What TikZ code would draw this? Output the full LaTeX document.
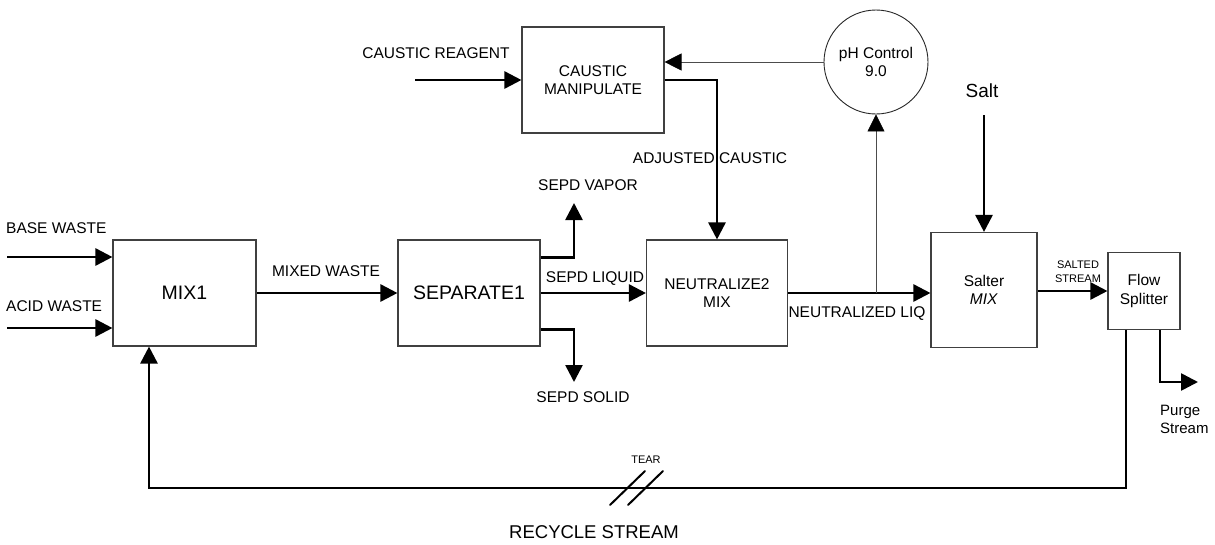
\documentclass[tikz,border=0pt]{standalone}
\usepackage{fontspec}
\setmainfont{Liberation Sans}
\usetikzlibrary{arrows.meta,positioning,calc}

\begin{document}
\begin{tikzpicture}[x=1pt, y=-1pt,
  unit/.style={draw=black!75, line width=1.1pt, align=center, inner sep=0pt, font=\fontsize{15.5}{18.5}\selectfont},
  big/.style={font=\fontsize{19.5}{22}\selectfont},
  stream/.style={line width=2.6pt, -{Triangle[length=17pt, width=17pt]}},
  signal/.style={line width=0.7pt, draw=black!70, -{Triangle[length=17pt, width=17pt, fill=black, color=black]}},
  lbl/.style={font=\fontsize{15.5}{18.5}\selectfont, inner sep=0pt, align=center},
  small/.style={font=\fontsize{11}{14}\selectfont, inner sep=0pt, align=center}
]
  \useasboundingbox (0,0) rectangle (1215,544);

  \node[unit, big, minimum width=143pt, minimum height=106pt] (mix1) at (184.5,293) {MIX1};
  \node[unit, big, minimum width=142pt, minimum height=106pt] (sep1) at (469,293) {SEPARATE1};
  \node[unit, minimum width=141pt, minimum height=106pt] (neut) at (717,293) {NEUTRALIZE2\\MIX};
  \node[unit, minimum width=142pt, minimum height=106pt] (caustic) at (593,80) {CAUSTIC\\MANIPULATE};
  \node[unit, circle, draw=black!85, line width=0.9pt, minimum size=104pt] (ph) at (876,62) {pH Control\\9.0};
  \node[unit, minimum width=106pt, minimum height=115pt] (salter) at (984,290) {Salter\\\textit{MIX}};
  \node[unit, minimum width=72pt, minimum height=77pt] (splitter) at (1144,291) {Flow\\Splitter};

  \coordinate (basein) at (7,257);
  \coordinate (acidin) at (7,328);
  \coordinate (reagentin) at (415,80);
  \coordinate (saltin) at (984,115);
  \coordinate (vaporout) at (574,203);
  \coordinate (solidout) at (574,382);
  \coordinate (purgebend) at (1160,382);
  \coordinate (purgeout) at (1198,382);
  \coordinate (recycleright) at (1126,488);
  \coordinate (recycleleft) at (149,488);

  \draw[stream] (basein) -- (basein -| mix1.west);
  \draw[stream] (acidin) -- (acidin -| mix1.west);
  \draw[stream] (mix1) -- (sep1);
  \draw[stream] ($(sep1.north east)!0.17!(sep1.south east)$) -| (vaporout);
  \draw[stream] ($(sep1.north east)!0.84!(sep1.south east)$) -| (solidout);
  \draw[stream] (sep1) -- (neut);
  \draw[stream] (reagentin) -- (caustic);
  \draw[stream] (caustic.east) -| (neut.north);
  \draw[stream] (neut.east) -- (neut.east -| salter.west);
  \draw[signal] (ph.south |- neut.east) -- (ph.south);
  \draw[signal] (ph.west) -- (ph.west -| caustic.east);
  \draw[stream] (saltin) -- (salter.north);
  \draw[stream] (salter.east |- splitter) -- (splitter.west);
  \draw[stream] (splitter.south -| purgebend) |- (purgeout);
  \draw[stream] (splitter.south -| recycleright) -- (recycleright) -- (recycleleft) -- (recycleleft |- mix1.south);

  \draw[line width=2pt, line cap=round] (610,505) -- (645,471);
  \draw[line width=2pt, line cap=round] (628,505) -- (663,471);

  \node[lbl, anchor=west] (baselbl) at (6,228) {BASE WASTE};
  \node[lbl, anchor=west] (acidlbl) at (6,306) {ACID WASTE};
  \node[lbl] (mixedlbl) at (326,271) {MIXED WASTE};
  \node[lbl] (vaporlbl) at (588,185) {SEPD VAPOR};
  \node[lbl] (liquidlbl) at (595,279) {SEPD LIQUID};
  \node[lbl] (solidlbl) at (583,397) {SEPD SOLID};
  \node[lbl] (neutlbl) at (857,314) {NEUTRALIZED LIQ};
  \node[lbl] (adjlbl) at (710,158) {ADJUSTED CAUSTIC};
  \node[lbl] (reagentlbl) at (436,53) {CAUSTIC REAGENT};
  \node[lbl, font=\fontsize{19}{22}\selectfont] (saltlbl) at (982,91) {Salt};
  \node[small] (saltedlbl) at (1078,272) {SALTED\\STREAM};
  \node[lbl, anchor=west, align=left, font=\fontsize{15}{18}\selectfont] (purgelbl) at (1160,419) {Purge\\Stream};
  \node[small] (tearlbl) at (646,460) {TEAR};
  \node[lbl, font=\fontsize{18.5}{22}\selectfont] (recyclelbl) at (594,532) {RECYCLE STREAM};
\end{tikzpicture}
\end{document}
